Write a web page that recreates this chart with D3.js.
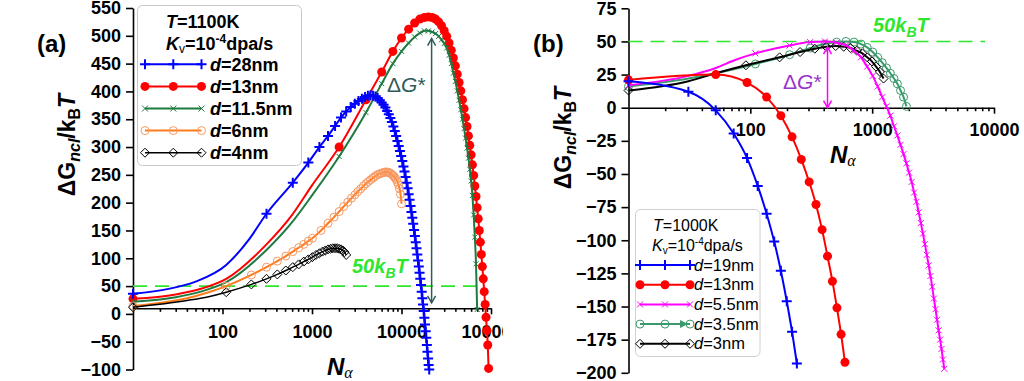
<!DOCTYPE html>
<html><head><meta charset="utf-8">
<script src="https://cdn.jsdelivr.net/npm/d3@7/dist/d3.min.js"></script>
<style>
body{margin:0;background:#fff;}
svg{display:block;font-family:"Liberation Sans",Arial,sans-serif;}
</style></head><body>
<svg id="c" width="1024" height="381"></svg>
<script>
// ---------------- data ----------------
const aTicksX = [100, 1000, 10000, 100000];
const aTicksY = [-100,-50,0,50,100,150,200,250,300,350,400,450,500,550];
const bTicksX = [100, 1000, 10000];
const bTicksY = [-200,-175,-150,-125,-100,-75,-50,-25,0,25,50,75];

const aLabels = ["d=28nm","d=13nm","d=11.5nm","d=6nm","d=4nm"];
const bLabels = ["d=19nm","d=13nm","d=5.5nm","d=3.5nm","d=3nm"];

// panel (a)  [N, dG/kT]
const aBlue = [[10,36],[310,180],[610,236],[910,272],[1210,300],[1510,320],[1810,338],[2110,353],[2410,364],[2710,372],[3010,378],[3310,383],[3610,387],[3910,390],[4210,392],[4510,393],[4810,392],[5110,391],[5410,388],[5710,384],[6010,380],[6310,376],[6610,371],[6910,365],[7210,359],[7510,352],[7810,345],[8110,337],[8410,329],[8710,320],[9010,311],[9310,302],[9610,293],[9910,284],[10210,275],[10510,265],[10810,256],[11110,246],[11410,236],[11710,226],[12010,215],[12310,205],[12610,194],[12910,183],[13210,173],[13510,162],[13810,151],[14110,140],[14410,129],[14710,118],[15010,107],[15310,96],[15610,85],[15910,74],[16210,63],[16510,52],[16810,40],[17110,28],[17410,17],[17710,5],[18010,-7],[18310,-19],[18610,-31],[18910,-43],[19210,-56],[19510,-68],[19810,-80],[20110,-92],[20410,-100]];
const aBlueLine = [[25,45],[50,58],[110,88],[200,135]];

const aRed = [[10,27],[2010,300],[4010,385],[6010,435],[8010,472],[10010,496],[12010,512],[14010,523],[16010,530],[18010,533],[20010,534],[22010,533],[24010,530],[26010,525],[28010,518],[30010,509],[32010,499],[34010,487],[36010,474],[38010,460],[40010,446],[42010,431],[44010,416],[46010,401],[48010,385],[50010,369],[52010,353],[54010,337],[56010,320],[58010,303],[60010,286],[62010,268],[64010,249],[66010,230],[68010,211],[70010,191],[72010,171],[74010,150],[76010,129],[78010,107],[80010,85],[82010,63],[84010,40],[86010,17],[88010,-6],[90010,-30],[92010,-56],[94010,-98]];
const aRedLine = [[30,35],[60,46],[110,63],[310,125],[600,178],[1000,231]];

const aGreen = [[10,22],[2010,283],[4010,362],[6010,414],[8010,450],[10010,472],[12010,487],[14010,498],[16010,505],[18010,509],[20010,509],[22010,507],[24010,504],[26010,499],[28010,493],[30010,486],[32010,478],[34010,465],[36010,450],[38010,433],[40010,418],[42010,401],[44010,384],[46010,367],[48010,350],[50010,333],[52010,316],[54010,298],[56010,280],[58010,260],[60010,239],[62010,213],[64010,178],[66010,138],[68010,90],[70010,8]];
const aGreenLine = [[30,30],[60,41],[110,57],[310,115],[600,165],[1000,213]];

const aOrange = [[10,14],[110,50],[210,70],[310,84],[410,95],[510,104],[610,112],[710,119],[810,125],[910,131],[1010,136],[1260,150],[1510,163],[1760,174],[2010,184],[2260,193],[2510,201],[2760,208],[3010,214],[3260,220],[3510,225],[3760,230],[4010,234],[4260,238],[4510,241],[4760,244],[5010,247],[5260,249],[5510,251],[5760,252],[6010,253],[6260,254],[6510,255],[6760,255],[7010,255],[7260,254],[7510,253],[7760,251],[8010,249],[8260,247],[8510,244],[8760,241],[9010,237],[9260,232],[9510,225],[9760,215],[10010,198]];
const aOrangeLine = [[40,28],[70,39]];

const aBlack = [[10,12],[110,39],[210,53],[310,63],[410,71],[510,78],[610,84],[710,89],[810,94],[910,98],[1010,102],[1110,106],[1210,109],[1310,112],[1410,114],[1510,116],[1610,117],[1710,118],[1810,118],[1910,118],[2010,117],[2110,116],[2210,114],[2310,111],[2410,106]];
const aBlackLine = [[40,24],[70,31]];

// panel (b)
const bBlue = [[10,20],[31,12],[52,-2],[73,-19.5],[94,-38],[115,-59],[136,-80],[157,-101],[178,-123],[199,-146],[220,-169],[241,-193]];
const bRed = [[10,21],[52,25],[94,19],[136,8],[178,-6],[220,-22],[262,-39],[304,-56],[346,-73],[388,-92],[430,-112],[472,-131],[514,-151],[556,-171],[598,-192]];
const bMagenta = [[10,17],[110,41],[210,47],[310,49.5],[410,50],[510,49],[610,47],[710,43],[810,38],[910,31],[1010,24],[1110,16],[1210,8],[1310,1],[1410,-6],[1510,-14],[1610,-21],[1710,-28],[1810,-35],[1910,-42],[2010,-49],[2110,-56],[2210,-64],[2310,-71],[2410,-79],[2510,-87],[2610,-95],[2710,-103],[2810,-111],[2910,-119],[3010,-127],[3110,-135],[3210,-144],[3310,-152],[3410,-160],[3510,-168],[3610,-175],[3710,-182],[3810,-190],[3910,-197]];
const bMagentaLine = [[31,24],[52,30],[75,36]];
const bGreen = [[10,16],[110,33],[210,40],[310,45],[410,48],[510,49.5],[610,50],[710,49.5],[810,48],[910,45.5],[1010,42],[1110,38],[1210,34],[1310,30],[1410,26],[1510,22],[1610,18],[1710,13],[1810,8],[1910,1]];
const bGreenLine = [[31,22],[52,26]];
const bBlack = [[10,13],[92,32],[174,38],[256,42],[338,44.5],[420,46],[502,46.5],[584,46],[666,45],[748,43],[830,41],[912,38],[994,35],[1076,31],[1158,27],[1240,22]];
const bBlackLine = [[31,20],[52,26]];

const refLevel = 50;           // 50 kBT line
const aArrow = [21700, 495, 20]; // N, from, to
const bArrow = [430, 45.8, 0];

// ---------------- drawing ----------------
const svg = d3.select('#c');
const LIME = '#2ee62e';
const C = {blue:'#0000ff', red:'#ff0000', dgreen:'#1f7a40', orange:'#ff7a1a', orangeM:'#f79a62',
           black:'#000', magenta:'#ff00ff', sgreen:'#3a9a6c', slate:'#2f5c5a', purple:'#9933cc'};

function rich(parent, x, y, parts, base) {
  const t = parent.append('text').attr('x', x).attr('y', y)
    .attr('font-size', base.size).attr('font-weight', base.weight || 'normal')
    .attr('fill', base.fill || '#000');
  if (base.anchor) t.attr('text-anchor', base.anchor);
  if (base.transform) t.attr('transform', base.transform);
  if (base.style) t.attr('font-style', base.style);
  let cur = 0;
  parts.forEach(p => {
    const s = t.append('tspan').text(p.t);
    const off = p.dy || 0;
    if (off !== cur) { s.attr('dy', off - cur); cur = off; }
    if (p.it) s.attr('font-style', 'italic');
    if (p.size) s.attr('font-size', p.size);
    if (p.w) s.attr('font-weight', p.w);
    if (p.ff) s.attr('font-family', p.ff);
  });
  return t;
}

const symbols = {
  plus: (g, c) => g.append('path').attr('d','M-5,0H5M0,-5V5').attr('stroke',c).attr('stroke-width',2).attr('fill','none'),
  dot: (g, c) => g.append('circle').attr('r',4.5).attr('fill',c),
  xs: (g, c) => g.append('path').attr('d','M-2.5,-2.5L2.5,2.5M-2.5,2.5L2.5,-2.5').attr('stroke',c).attr('stroke-width',1).attr('fill','none'),
  xm: (g, c) => g.append('path').attr('d','M-3,-3L3,3M-3,3L3,-3').attr('stroke',c).attr('stroke-width',1).attr('fill','none'),
  ocirc: (g, c) => g.append('circle').attr('r',4).attr('fill','none').attr('stroke',c).attr('stroke-width',1),
  diam: (g, c) => g.append('path').attr('d','M0,-4.5L4.5,0L0,4.5L-4.5,0Z').attr('fill','none').attr('stroke',c).attr('stroke-width',1)
};

function series(g, xs, ys, pts, extra, lc, lw, sym, mc) {
  const all = pts.concat(extra).sort((a,b)=>a[0]-b[0]);
  const line = d3.line().x(d=>xs(d[0])).y(d=>ys(d[1])).curve(d3.curveMonotoneX);
  g.append('path').attr('d', line(all)).attr('fill','none').attr('stroke',lc).attr('stroke-width',lw);
  const mg = g.append('g');
  pts.forEach(d => {
    const m = mg.append('g').attr('transform',`translate(${xs(d[0])},${ys(d[1])})`);
    symbols[sym](m, mc);
  });
}

function minorsOf(decades){ const r=[]; decades.forEach(d=>{ for(let m=2;m<=9;m++) r.push(d*m); }); return r; }

function styleAxis(sel){
  sel.selectAll('.domain').attr('stroke','#000').attr('stroke-width',1.6);
  sel.selectAll('.tick line').attr('stroke','#000').attr('stroke-width',1.6);
  sel.selectAll('.tick text').attr('font-size',18).attr('font-weight','bold').attr('fill','#000')
     .attr('font-family','"Liberation Sans",Arial,sans-serif');
}

function arrow(g, x, y0, y1, col) {
  g.append('line').attr('x1',x).attr('x2',x).attr('y1',y0).attr('y2',y1).attr('stroke',col).attr('stroke-width',1.5);
  g.append('path').attr('d',`M${x-4},${y0+7}L${x},${y0}L${x+4},${y0+7}`).attr('fill','none').attr('stroke',col).attr('stroke-width',1.5);
  g.append('path').attr('d',`M${x-4},${y1-7}L${x},${y1}L${x+4},${y1-7}`).attr('fill','none').attr('stroke',col).attr('stroke-width',1.5);
}

// ======== Panel (a) ========
svg.append('defs').append('clipPath').attr('id','clipA').append('rect').attr('x',0).attr('y',0).attr('width',503).attr('height',381);
const A = svg.append('g').attr('clip-path','url(#clipA)');
const xA = d3.scaleLog().domain([10,100000]).range([133,491]);
const yA = d3.scaleLinear().domain([-100,550]).range([369.5,8]);
const axA = yA(10);

const gxA = A.append('g').attr('transform',`translate(0,${axA})`)
  .call(d3.axisBottom(xA).tickValues(aTicksX).tickFormat(d3.format('d')).tickSize(6).tickPadding(11).tickSizeOuter(0));
styleAxis(gxA);
const gxAm = A.append('g').attr('transform',`translate(0,${axA})`)
  .call(d3.axisBottom(xA).tickValues(minorsOf([10,100,1000,10000])).tickFormat('').tickSize(3.5).tickSizeOuter(0));
gxAm.select('.domain').remove(); styleAxis(gxAm);
const gyA = A.append('g').attr('transform','translate(133,0)')
  .call(d3.axisLeft(yA).tickValues(aTicksY).tickSize(7).tickPadding(5).tickSizeOuter(0));
styleAxis(gyA);

A.append('line').attr('x1',xA(10)).attr('x2',480).attr('y1',yA(refLevel)).attr('y2',yA(refLevel))
  .attr('stroke',LIME).attr('stroke-width',1.6).attr('stroke-dasharray','14,8');

const sA = A.append('g');
series(sA, xA, yA, aRed, aRedLine, C.red, 2, 'dot', C.red);
series(sA, xA, yA, aGreen, aGreenLine, C.dgreen, 2, 'xs', C.dgreen);
series(sA, xA, yA, aBlue, aBlueLine, C.blue, 2, 'plus', C.blue);
series(sA, xA, yA, aOrange, aOrangeLine, C.orange, 2, 'ocirc', C.orangeM);
series(sA, xA, yA, aBlack, aBlackLine, C.black, 1.5, 'diam', C.black);

arrow(A, xA(aArrow[0]), yA(aArrow[1]), yA(aArrow[2]), C.slate);
rich(A, 387, 92, [{t:'Δ'},{t:'G',it:true},{t:'*'}], {size:21, fill:C.slate});
rich(A, 352, 273, [{t:'50k'},{t:'B',size:14,dy:5},{t:'T'}], {size:20, weight:'bold', style:'italic', fill:LIME});

// legend (a)
const LA = A.append('g');
LA.append('rect').attr('x',137.5).attr('y',5.5).attr('width',164).attr('height',160).attr('rx',5)
  .attr('fill','#fff').attr('stroke','#c8c8c8').attr('stroke-width',1);
rich(LA, 166, 28, [{t:'T',it:true},{t:'=1100K'}], {size:18, weight:'bold'});
rich(LA, 166, 50, [{t:'K',it:true},{t:'v',size:12,dy:3,w:'normal'},{t:'=10'},{t:'-4',size:12,dy:-7},{t:'dpa/s'}], {size:18, weight:'bold'});
const legA = [[C.blue,'plus',C.blue,2],[C.red,'dot',C.red,2],[C.dgreen,'xm',C.dgreen,2],[C.orange,'ocirc',C.orangeM,2],[C.black,'diam',C.black,1.5]];
legA.forEach((e,i)=>{
  const cy = 64.3 + i*22.1;
  LA.append('line').attr('x1',145).attr('x2',201.5).attr('y1',cy).attr('y2',cy).attr('stroke',e[0]).attr('stroke-width',e[3]);
  [145,173.3,201.5].forEach(x=>{ const m=LA.append('g').attr('transform',`translate(${x},${cy})`); symbols[e[1]](m,e[2]); });
  const lab = aLabels[i];
  rich(LA, 210, cy+6.5, [{t:lab[0],it:true},{t:lab.slice(1)}], {size:18, weight:'bold'});
});

rich(A, 37, 52, [{t:'(a)'}], {size:24, weight:'bold'});
rich(A, 0, 0, [{t:'Δ'},{t:'G'},{t:'ncl',it:true,size:16,dy:5},{t:'/k'},{t:'B',size:16,dy:5},{t:'T',it:true}],
  {size:23, weight:'bold', anchor:'middle', transform:'translate(75,145) rotate(-90)'});
rich(A, 327, 375, [{t:'N',it:true},{t:'α',it:true,w:'normal',ff:'"Liberation Serif",serif',size:16,dy:3}], {size:24, weight:'bold'});

// ======== Panel (b) ========
const B = svg.append('g');
const xB = d3.scaleLog().domain([10,10000]).range([628.5,994]);
const yB = d3.scaleLinear().domain([-200,75]).range([372.8,8.3]);
const axB = yB(0);

const gxB = B.append('g').attr('transform',`translate(0,${axB})`)
  .call(d3.axisBottom(xB).tickValues(bTicksX).tickFormat(d3.format('d')).tickSize(6).tickPadding(10).tickSizeOuter(0));
styleAxis(gxB);
const gxBm = B.append('g').attr('transform',`translate(0,${axB})`)
  .call(d3.axisBottom(xB).tickValues(minorsOf([10,100,1000])).tickFormat('').tickSize(3.5).tickSizeOuter(0));
gxBm.select('.domain').remove(); styleAxis(gxBm);
const gyB = B.append('g').attr('transform','translate(628.5,0)')
  .call(d3.axisLeft(yB).tickValues(bTicksY).tickSize(7).tickPadding(5).tickSizeOuter(0));
styleAxis(gyB);

B.append('line').attr('x1',xB(10)).attr('x2',985).attr('y1',yB(refLevel)).attr('y2',yB(refLevel))
  .attr('stroke',LIME).attr('stroke-width',1.6).attr('stroke-dasharray','14,8');

const sB = B.append('g');
series(sB, xB, yB, bGreen, bGreenLine, C.sgreen, 2, 'ocirc', C.sgreen);
series(sB, xB, yB, bBlack, bBlackLine, C.black, 2, 'diam', C.black);
series(sB, xB, yB, bMagenta, bMagentaLine, C.magenta, 2, 'xm', C.magenta);
series(sB, xB, yB, bRed, [], C.red, 2, 'dot', C.red);
series(sB, xB, yB, bBlue, [], C.blue, 2, 'plus', C.blue);

arrow(B, xB(bArrow[0]), yB(bArrow[1]), yB(bArrow[2]), C.magenta);
rich(B, 783, 89, [{t:'Δ'},{t:'G',it:true},{t:'*'}], {size:21, fill:C.purple});
rich(B, 873, 32, [{t:'50k'},{t:'B',size:14,dy:5},{t:'T'}], {size:20, weight:'bold', style:'italic', fill:LIME});

// legend (b)
const LB = B.append('g');
LB.append('rect').attr('x',635.5).attr('y',209.5).attr('width',124.5).attr('height',147).attr('rx',5)
  .attr('fill','#fff').attr('stroke','#d0d0d0').attr('stroke-width',1);
rich(LB, 653, 230.5, [{t:'T',it:true},{t:'=1000K'}], {size:16});
rich(LB, 652, 250.5, [{t:'K',it:true},{t:'v',size:10,dy:3},{t:'=10'},{t:'-4',size:10,dy:-6},{t:'dpa/s'}], {size:16});
const legB = [[C.blue,'plus',C.blue],[C.red,'dot',C.red],[C.magenta,'xm',C.magenta],[C.sgreen,'ocirc',C.sgreen],[C.black,'diam',C.black]];
legB.forEach((e,i)=>{
  const cy = 265 + i*19.7;
  LB.append('line').attr('x1',640).attr('x2',690).attr('y1',cy).attr('y2',cy).attr('stroke',e[0]).attr('stroke-width',2);
  [640,665,690].forEach(x=>{ const m=LB.append('g').attr('transform',`translate(${x},${cy})`); symbols[e[1]](m,e[2]); });
  if (i===3) LB.append('path').attr('d',`M680,${cy-4}L688,${cy}L680,${cy+4}Z`).attr('fill',e[0]);
  const lab = bLabels[i];
  rich(LB, 694, cy+5.5, [{t:lab[0],it:true},{t:lab.slice(1)}], {size:16.5});
});

rich(B, 533, 52, [{t:'(b)'}], {size:24, weight:'bold'});
rich(B, 0, 0, [{t:'Δ'},{t:'G'},{t:'ncl',it:true,size:16,dy:5},{t:'/k'},{t:'B',size:16,dy:5},{t:'T',it:true}],
  {size:23, weight:'bold', anchor:'middle', transform:'translate(571,138) rotate(-90)'});
rich(B, 830, 163, [{t:'N',it:true},{t:'α',it:true,w:'normal',ff:'"Liberation Serif",serif',size:16,dy:3}], {size:24, weight:'bold'});
</script>
</body></html>
